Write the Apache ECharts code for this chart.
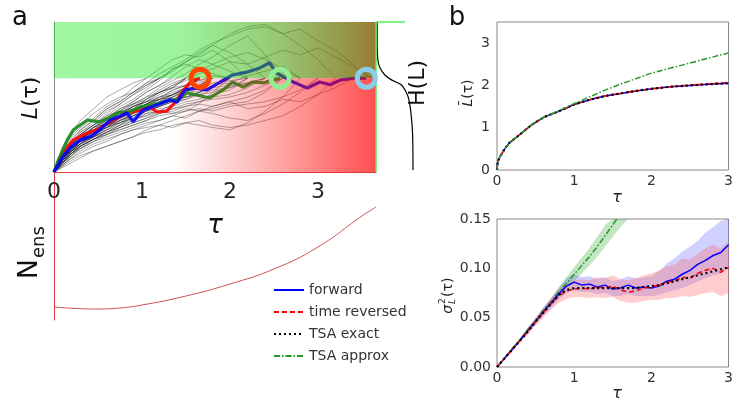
<!DOCTYPE html>
<html>
<head>
<meta charset="utf-8">
<script src="https://cdn.jsdelivr.net/npm/echarts@6/dist/echarts.min.js"></script>
<style>
html, body { margin: 0; padding: 0; background: #fff; }
#main { width: 736px; height: 401px; }
</style>
</head>
<body>
<div id="main"></div>
<script>
// a: 轨迹时间网格和集合轨迹 (L 值, 最后一点到达阈值 L=2)
var ensTau = [0, 0.1, 0.2, 0.3, 0.45, 0.6, 0.75, 0.9, 1.05, 1.2, 1.35, 1.5, 1.65, 1.8, 2.0, 2.2, 2.4, 2.6, 2.8, 3.0, 3.2, 3.4, 3.6];
var ensPaths = [
	[0, .45, .7, .9, 1.1, 1.35, 1.5, 1.7, 1.9, 2.0],
	[0, .35, .6, .8, 1.0, 1.15, 1.35, 1.5, 1.7, 1.85, 2.0],
	[0, .3, .5, .75, .9, 1.1, 1.25, 1.4, 1.5, 1.7, 1.8, 2.0],
	[0, .4, .6, .7, .95, 1.05, 1.3, 1.35, 1.55, 1.75, 1.9, 2.0],
	[0, .25, .45, .65, .8, 1.0, 1.15, 1.3, 1.45, 1.6, 1.7, 1.8, 2.0],
	[0, .35, .55, .7, .9, .95, 1.2, 1.35, 1.5, 1.55, 1.75, 1.85, 2.0],
	[0, .2, .4, .6, .75, .9, 1.05, 1.15, 1.3, 1.45, 1.55, 1.7, 1.85, 2.0],
	[0, .3, .5, .6, .85, 1.0, 1.05, 1.25, 1.35, 1.5, 1.65, 1.75, 1.9, 2.0],
	[0, .25, .5, .65, .75, .9, 1.0, 1.2, 1.25, 1.4, 1.5, 1.6, 1.7, 1.85, 2.0],
	[0, .4, .6, .8, 1.0, 1.2, 1.4, 1.55, 1.75, 1.95, 2.2, 2.3, 2.2, 2.1, 2.0],
	[0, .2, .35, .55, .7, .85, .95, 1.1, 1.25, 1.3, 1.45, 1.55, 1.65, 1.7, 1.8, 2.0],
	[0, .5, .75, .95, 1.15, 1.4, 1.55, 1.8, 2.0, 2.2, 2.4, 2.5, 2.45, 2.6, 2.35, 2.0],
	[0, .15, .35, .5, .65, .8, .9, 1.0, 1.1, 1.25, 1.3, 1.4, 1.5, 1.6, 1.65, 1.8, 2.0],
	[0, .35, .6, .85, 1.05, 1.3, 1.45, 1.65, 1.8, 2.0, 2.15, 2.35, 2.5, 2.7, 2.55, 2.3, 2.0],
	[0, .2, .4, .5, .65, .75, .85, .95, 1.05, 1.1, 1.2, 1.15, 1.3, 1.35, 1.45, 1.5, 1.7, 2.0],
	[0, .3, .55, .75, .95, 1.15, 1.35, 1.45, 1.6, 1.8, 1.95, 2.1, 2.3, 2.45, 2.7, 2.9, 2.5, 2.0],
	[0, .15, .3, .45, .6, .7, .8, .9, .95, 1.0, .95, 1.05, 1.0, .95, .9, 1.05, 1.3, 1.6, 2.0],
	[0, .25, .45, .6, .75, .85, 1.0, 1.15, 1.2, 1.3, 1.25, 1.35, 1.3, 1.25, 1.15, 1.1, 1.25, 1.45, 1.7, 2.0],
	[0, .45, .65, .9, 1.1, 1.35, 1.5, 1.7, 1.9, 2.1, 2.25, 2.4, 2.6, 2.75, 2.9, 3.05, 3.1, 2.95, 2.7, 2.4, 2.0],
	[0, .2, .4, .55, .7, .8, .95, 1.05, 1.15, 1.25, 1.35, 1.4, 1.45, 1.4, 1.5, 1.35, 1.4, 1.55, 1.5, 1.65, 1.8, 2.0],
	[0, .3, .5, .7, .95, 1.1, 1.25, 1.45, 1.6, 1.7, 1.85, 1.95, 2.1, 2.2, 2.35, 2.3, 2.45, 2.6, 2.5, 2.65, 2.45, 2.25, 2.0],
	[0, .35, .6, .8, 1.0, 1.25, 1.45, 1.65, 1.85, 2.0, 2.2, 2.35, 2.55, 2.7, 2.95, 3.1, 3.15, 2.95, 3.05, 2.8, 2.6, 2.3, 2.0],
	[0, .5, .8, 1.0, 1.25, 1.45, 1.6, 1.7, 1.85, 2.0],
	[0, .15, .3, .4, .55, .65, .8, .9, 1.0, 1.1, 1.2, 1.3, 1.45, 1.7, 2.0],
	[0, .3, .5, .7, .85, 1.0, 1.15, 1.3, 1.45, 1.55, 1.65, 1.75, 1.7, 1.85, 1.9, 2.05, 2.15, 2.25, 2.0],
	[0, .55, .85, 1.1, 1.35, 1.6, 1.75, 1.9, 2.0],
	[0, .12, .25, .35, .45, .55, .65, .75, .9, 1.0, 1.1, 1.2, 1.3, 1.4, 1.5, 1.6, 1.75, 2.0],
	[0, .4, .55, .85, 1.0, 1.2, 1.3, 1.45, 1.55, 1.7, 1.8, 1.85, 1.95, 2.0],
	[0, .25, .55, .7, .85, 1.05, 1.2, 1.3, 1.45, 1.6, 1.65, 1.8, 1.75, 1.9, 1.95, 2.0],
	[0, .3, .45, .7, .85, 1.0, 1.15, 1.3, 1.45, 1.55, 1.65, 1.8, 2.0],
	[0, .1, .2, .3, .45, .55, .65, .75, .85, .9, 1.0, 1.05, 1.1, 1.0, .95, 1.0, 1.1, 1.2, 1.4, 1.65, 2.0],
	[0, .3, .45, .6, .8, .95, 1.05, 1.2, 1.3, 1.4, 1.5, 1.6, 1.65, 1.75, 1.8, 1.9, 2.0],
	[0, .2, .45, .55, .75, .9, 1.1, 1.2, 1.35, 1.5, 1.6, 1.7, 1.85, 2.0],
	[0, .35, .55, .75, .95, 1.15, 1.3, 1.5, 1.7, 1.85, 2.05, 2.25, 2.4, 2.3, 2.15, 2.0],
	[0, .3, .5, .65, .85, 1.0, 1.1, 1.25, 1.35, 1.5, 1.6, 1.75, 2.0],
	[0, .25, .4, .6, .8, .95, 1.1, 1.2, 1.3, 1.4, 1.55, 1.65, 1.8, 2.0],
	[0, .3, .45, .6, .75, .95, 1.05, 1.15, 1.3, 1.4, 1.5, 1.55, 1.7, 1.8, 2.0],
	[0, .35, .55, .7, .9, 1.05, 1.2, 1.4, 1.5, 1.65, 1.8, 2.0],
	[0, .2, .4, .55, .7, .85, 1.0, 1.1, 1.2, 1.35, 1.4, 1.5, 1.55, 1.65, 1.75, 2.0],
	[0, .3, .5, .7, .8, 1.0, 1.1, 1.25, 1.35, 1.45, 1.55, 1.6, 1.7, 1.8, 1.85, 1.9, 2.0],
	[0, .35, .5, .7, .9, 1.05, 1.15, 1.3, 1.45, 1.55, 1.6, 1.75, 1.85, 2.0],
	[0, .25, .45, .65, .8, .95, 1.15, 1.25, 1.4, 1.55, 1.65, 1.8, 2.0],
	[0, .2, .35, .5, .7, .85, .95, 1.05, 1.15, 1.3, 1.35, 1.45, 1.5, 1.55, 1.6, 1.7, 1.85, 2.0],
	[0, .4, .6, .75, .95, 1.1, 1.25, 1.4, 1.5, 1.6, 1.75, 1.85, 1.95, 2.05, 2.0],
	[0, .25, .4, .55, .7, .8, .9, 1.0, 1.1, 1.2, 1.25, 1.3, 1.35, 1.3, 1.4, 1.45, 1.5, 1.6, 1.75, 2.0],
	[0, .3, .5, .7, .9, 1.05, 1.2, 1.4, 1.55, 1.7, 1.85, 2.0, 2.15, 2.3, 2.45, 2.55, 2.4, 2.2, 2.0]
];

// a: 三条高亮轨迹
var redTau = [0, 0.07, 0.14, 0.22, 0.35, 0.49, 0.64, 0.83, 0.98, 1.09, 1.17, 1.28, 1.38, 1.49, 1.57, 1.66];
var redL = [0, 0.26, 0.51, 0.68, 0.81, 0.9, 1.07, 1.26, 1.32, 1.39, 1.28, 1.3, 1.49, 1.79, 1.96, 2.0];
var blueTau = [0, 0.09, 0.18, 0.3, 0.43, 0.52, 0.64, 0.75, 0.83, 0.9, 1.01, 1.17, 1.32, 1.4, 1.49, 1.6, 1.74, 1.89, 2.03, 2.19, 2.34, 2.45, 2.53, 2.72, 2.88, 3.02, 3.14, 3.25, 3.4, 3.55];
var blueL = [0, 0.3, 0.51, 0.68, 0.77, 0.9, 1.11, 1.19, 1.26, 1.07, 1.32, 1.43, 1.54, 1.49, 1.75, 1.79, 1.75, 1.92, 2.07, 2.13, 2.22, 2.33, 2.11, 1.92, 1.79, 1.92, 1.86, 1.96, 2.0, 2.0];
var greenTau = [0, 0.05, 0.15, 0.22, 0.38, 0.52, 0.64, 0.75, 0.83, 0.98, 1.09, 1.24, 1.35, 1.43, 1.51, 1.63, 1.77, 1.92, 2.03, 2.15, 2.26, 2.38, 2.48, 2.57];
var greenL = [0, 0.26, 0.68, 0.9, 1.11, 1.07, 1.17, 1.28, 1.26, 1.39, 1.43, 1.49, 1.54, 1.56, 1.69, 1.64, 1.58, 1.75, 1.92, 1.81, 1.92, 1.9, 1.96, 2.0];
var hitTau = [1.66, 2.57, 3.55];
var hitL = [2.0, 2.0, 2.0];
var hitColors = ['#ff4500', '#90ee90', '#87ceeb'];
var threshold = 2.0;
var tauMax = 3.66, lMax = 3.2;

// a: H(L) 分布 和 N_ens
var hL = [3.2, 2.82, 2.39, 2.22, 2.07, 1.96, 1.86, 1.71, 1.54, 1.22, 0.79, 0.04];
var hH = [0.03, 0.03, 0.05, 0.11, 0.24, 0.43, 0.68, 0.81, 0.89, 0.95, 0.99, 1.0];
var nTau = [0, 0.25, 0.5, 0.75, 1, 1.5, 2, 2.5, 3, 3.5, 3.66];
var nEns = [13, 11.5, 11, 12, 15, 24, 36, 51, 73, 104, 113];

// b 上: 平均 L
var meanTau = [0, 0.01, 0.04, 0.1, 0.16, 0.29, 0.45, 0.62, 0.79, 1.0, 1.2, 1.4, 1.6, 1.8, 2.0, 2.25, 2.5, 2.75, 3.0];
var meanFwd = [0, 0.2, 0.32, 0.5, 0.64, 0.83, 1.07, 1.26, 1.38, 1.55, 1.66, 1.75, 1.81, 1.87, 1.92, 1.97, 2.0, 2.03, 2.05];
var meanRev = [0, 0.2, 0.32, 0.5, 0.64, 0.83, 1.07, 1.26, 1.38, 1.55, 1.66, 1.75, 1.81, 1.87, 1.92, 1.97, 2.01, 2.04, 2.07];
var meanExact = [0, 0.2, 0.32, 0.5, 0.64, 0.83, 1.07, 1.26, 1.38, 1.55, 1.66, 1.75, 1.81, 1.87, 1.92, 1.97, 2.0, 2.03, 2.05];
var meanApprox = [0, 0.2, 0.32, 0.5, 0.64, 0.83, 1.07, 1.26, 1.39, 1.57, 1.73, 1.89, 2.03, 2.16, 2.29, 2.41, 2.53, 2.65, 2.77];

// b 下: 方差及其带宽
var sigTau = [0, 0.1, 0.2, 0.3, 0.4, 0.5, 0.6, 0.7, 0.8, 0.9, 1.0, 1.1, 1.2, 1.3, 1.4, 1.5, 1.6, 1.7, 1.8, 1.9, 2.0, 2.1, 2.2, 2.3, 2.4, 2.5, 2.6, 2.7, 2.8, 2.9, 3.0];
var sigFwd = [0, 0.009, 0.018, 0.027, 0.037, 0.046, 0.056, 0.065, 0.074, 0.082, 0.086, 0.083, 0.084, 0.081, 0.083, 0.079, 0.08, 0.083, 0.08, 0.081, 0.08, 0.082, 0.087, 0.089, 0.094, 0.098, 0.104, 0.108, 0.113, 0.116, 0.124];
var fwdLo = [0, 0.008, 0.017, 0.025, 0.034, 0.043, 0.052, 0.06, 0.068, 0.075, 0.078, 0.076, 0.076, 0.074, 0.075, 0.072, 0.072, 0.074, 0.072, 0.072, 0.072, 0.073, 0.076, 0.078, 0.08, 0.083, 0.087, 0.09, 0.093, 0.095, 0.1];
var fwdHi = [0, 0.01, 0.019, 0.029, 0.04, 0.05, 0.06, 0.07, 0.08, 0.09, 0.094, 0.091, 0.092, 0.089, 0.091, 0.087, 0.089, 0.092, 0.09, 0.091, 0.092, 0.097, 0.105, 0.11, 0.117, 0.122, 0.128, 0.136, 0.142, 0.148, 0.155];
var sigRev = [0, 0.009, 0.018, 0.027, 0.036, 0.046, 0.055, 0.064, 0.072, 0.077, 0.079, 0.08, 0.079, 0.081, 0.08, 0.082, 0.078, 0.076, 0.077, 0.08, 0.081, 0.083, 0.086, 0.087, 0.091, 0.09, 0.095, 0.098, 0.1, 0.096, 0.101];
var revLo = [0, 0.008, 0.016, 0.025, 0.033, 0.042, 0.05, 0.058, 0.065, 0.069, 0.071, 0.071, 0.07, 0.071, 0.07, 0.071, 0.067, 0.065, 0.065, 0.067, 0.068, 0.068, 0.07, 0.07, 0.072, 0.071, 0.073, 0.075, 0.076, 0.072, 0.075];
var revHi = [0, 0.01, 0.02, 0.029, 0.039, 0.05, 0.06, 0.07, 0.079, 0.085, 0.088, 0.089, 0.088, 0.091, 0.09, 0.093, 0.089, 0.088, 0.09, 0.093, 0.095, 0.098, 0.102, 0.104, 0.11, 0.109, 0.115, 0.12, 0.124, 0.12, 0.127];
var sigExact = [0, 0.009, 0.018, 0.027, 0.036, 0.046, 0.055, 0.064, 0.073, 0.078, 0.08, 0.08, 0.08, 0.08, 0.08, 0.08, 0.08, 0.08, 0.08, 0.081, 0.082, 0.083, 0.085, 0.087, 0.089, 0.091, 0.093, 0.095, 0.097, 0.099, 0.101];
var sigApprox = [0, 0.0095, 0.019, 0.028, 0.038, 0.047, 0.057, 0.066, 0.076, 0.085, 0.094, 0.103, 0.112, 0.122, 0.133, 0.144, 0.155, 0.166];
var apxLo = [0, 0.009, 0.018, 0.027, 0.036, 0.045, 0.054, 0.063, 0.071, 0.079, 0.087, 0.095, 0.103, 0.112, 0.122, 0.132, 0.142, 0.152];
var apxHi = [0, 0.01, 0.02, 0.029, 0.04, 0.049, 0.06, 0.069, 0.081, 0.091, 0.101, 0.111, 0.121, 0.132, 0.144, 0.156, 0.168, 0.18];

var FONT = 'DejaVu Sans';
var C_FWD = '#0000ff', C_REV = '#ff0000', C_EXACT = '#000000', C_APX = '#229922';

function pairs(xs, ys) {
	var out = [];
	for (var i = 0; i < ys.length; i++) {
		out.push([xs[i], ys[i]]);
	}
	return out;
}

// 半透明覆盖层 (画在轨迹上面)
function overlaySeries(y0, y1, stops) {
	return {
		type: 'custom', xAxisIndex: 0, yAxisIndex: 0, data: [[0, 0]], silent: true, z: 4,
		renderItem: function(params, api) {
			var p0 = api.coord([0, y0]);
			var p1 = api.coord([tauMax, y1]);
			return {
				type: 'rect',
				shape: {x: p0[0], y: p1[1], width: p1[0] - p0[0], height: p0[1] - p1[1]},
				style: {fill: new echarts.graphic.LinearGradient(0, 0, 1, 0, stops)}
			};
		}
	};
}

// 置信带
function bandSeries(xs, lo, hi, color) {
	return {
		type: 'custom', xAxisIndex: 4, yAxisIndex: 4, data: [[0, 0]], silent: true, z: 1, clip: true,
		renderItem: function(params, api) {
			var pts = [], i;
			for (i = 0; i < hi.length; i++) pts.push(api.coord([xs[i], hi[i]]));
			for (i = lo.length - 1; i >= 0; i--) pts.push(api.coord([xs[i], lo[i]]));
			var cs = params.coordSys;
			pts = echarts.graphic.clipPointsByRect(pts, {x: cs.x, y: cs.y, width: cs.width, height: cs.height});
			return {type: 'polygon', shape: {points: pts}, style: {fill: color}};
		}
	};
}

var chart = echarts.init(document.getElementById('main'), null, {renderer: 'canvas'});
var series = [];

// 灰色集合轨迹
ensPaths.forEach(function(p) {
	series.push({
		type: 'line', xAxisIndex: 0, yAxisIndex: 0, data: pairs(ensTau, p),
		symbol: 'none', silent: true, z: 2,
		lineStyle: {color: '#000', width: 0.8, opacity: 0.42}
	});
});

// 高亮轨迹
[[redTau, redL, '#ff0000'], [greenTau, greenL, '#1a8a1a'], [blueTau, blueL, '#0000ff']].forEach(function(t) {
	series.push({
		type: 'line', xAxisIndex: 0, yAxisIndex: 0, data: pairs(t[0], t[1]),
		symbol: 'none', silent: true, z: 3,
		lineStyle: {color: t[2], width: 3.2, opacity: 0.9}
	});
});

// 阈值上下的覆盖色
series.push(overlaySeries(threshold, lMax, [
	{offset: 0, color: 'rgba(0,232,0,0.37)'}, {offset: 0.38, color: 'rgba(0,226,0,0.38)'},
	{offset: 0.7, color: 'rgba(70,150,0,0.55)'}, {offset: 1, color: 'rgba(130,89,0,0.8)'}
]));
series.push(overlaySeries(0, threshold, [
	{offset: 0, color: 'rgba(255,0,0,0)'}, {offset: 0.37, color: 'rgba(255,0,0,0)'},
	{offset: 0.62, color: 'rgba(255,0,0,0.26)'}, {offset: 1, color: 'rgba(255,0,0,0.69)'}
]));

// 到达阈值的圆圈 (单独一层, 在覆盖色之上)
series.push({
	type: 'scatter', xAxisIndex: 0, yAxisIndex: 0, zlevel: 1, z: 6, silent: true,
	symbolSize: 18,
	data: hitTau.map(function(t, i) {
		return {value: [t, hitL[i]], itemStyle: {color: 'rgba(0,0,0,0)', borderColor: hitColors[i], borderWidth: 5, opacity: 1}};
	})
});

// H(L)
series.push({
	type: 'line', xAxisIndex: 1, yAxisIndex: 1, data: pairs(hH, hL), smooth: 0.3,
	symbol: 'none', silent: true, lineStyle: {color: '#000', width: 1.2}
});

// N_ens
series.push({
	type: 'line', xAxisIndex: 2, yAxisIndex: 2, data: pairs(nTau, nEns), smooth: true,
	symbol: 'none', silent: true, lineStyle: {color: '#d05050', width: 1}
});

// b 上
series.push(
	{name: 'forward', type: 'line', xAxisIndex: 3, yAxisIndex: 3, data: pairs(meanTau, meanFwd), symbol: 'none',
		lineStyle: {color: C_FWD, width: 1.5}, itemStyle: {color: C_FWD}},
	{name: 'time reversed', type: 'line', xAxisIndex: 3, yAxisIndex: 3, data: pairs(meanTau, meanRev), symbol: 'none',
		lineStyle: {color: C_REV, width: 1.5, type: [5, 3]}, itemStyle: {color: C_REV}},
	{name: 'TSA exact', type: 'line', xAxisIndex: 3, yAxisIndex: 3, data: pairs(meanTau, meanExact), symbol: 'none',
		lineStyle: {color: C_EXACT, width: 2.2, type: [2, 3]}, itemStyle: {color: C_EXACT}},
	{name: 'TSA approx', type: 'line', xAxisIndex: 3, yAxisIndex: 3, data: pairs(meanTau, meanApprox), symbol: 'none',
		lineStyle: {color: C_APX, width: 1.5, type: [6, 2, 1.5, 2]}, itemStyle: {color: C_APX}}
);

// b 下
series.push(
	bandSeries(sigTau, apxLo, apxHi, 'rgba(60,170,60,0.3)'),
	bandSeries(sigTau, fwdLo, fwdHi, 'rgba(90,90,255,0.28)'),
	bandSeries(sigTau, revLo, revHi, 'rgba(255,90,90,0.3)'),
	{name: 'TSA approx', type: 'line', xAxisIndex: 4, yAxisIndex: 4, data: pairs(sigTau, sigApprox), symbol: 'none', z: 3,
		lineStyle: {color: C_APX, width: 1.5, type: [6, 2, 1.5, 2]}},
	{name: 'forward', type: 'line', xAxisIndex: 4, yAxisIndex: 4, data: pairs(sigTau, sigFwd), symbol: 'none', z: 3,
		lineStyle: {color: C_FWD, width: 1.5}},
	{name: 'time reversed', type: 'line', xAxisIndex: 4, yAxisIndex: 4, data: pairs(sigTau, sigRev), symbol: 'none', z: 3,
		lineStyle: {color: C_REV, width: 1.5, type: [5, 3]}},
	{name: 'TSA exact', type: 'line', xAxisIndex: 4, yAxisIndex: 4, data: pairs(sigTau, sigExact), symbol: 'none', z: 3,
		lineStyle: {color: C_EXACT, width: 2.2, type: [2, 3]}}
);

var tickB = {fontFamily: FONT, fontSize: 14, color: '#333'};
var hidden = {show: false};

chart.setOption({
	animation: false,
	textStyle: {fontFamily: FONT},
	grid: [
		{left: 54, top: 22, width: 322, height: 150},
		{left: 376, top: 22, width: 37, height: 150},
		{left: 54, top: 172, width: 322, height: 148},
		{left: 497, top: 22, width: 240, height: 148, show: true, borderColor: '#888', borderWidth: 1},
		{left: 497, top: 219, width: 240, height: 148, show: true, borderColor: '#888', borderWidth: 1}
	],
	xAxis: [
		{gridIndex: 0, type: 'value', min: 0, max: tauMax, interval: 1,
			axisLine: {lineStyle: {color: '#e03838', width: 1}}, axisTick: hidden, splitLine: hidden,
			axisLabel: {fontFamily: FONT, fontSize: 22, color: '#262626', margin: 9, showMaxLabel: false}},
		{gridIndex: 1, type: 'value', min: 0, max: 1, show: false},
		{gridIndex: 2, type: 'value', min: 0, max: tauMax, show: false},
		{gridIndex: 3, type: 'value', min: 0, max: 3, interval: 1,
			axisLine: hidden, axisTick: hidden, splitLine: hidden, axisLabel: Object.assign({margin: 4}, tickB)},
		{gridIndex: 4, type: 'value', min: 0, max: 3, interval: 1,
			axisLine: hidden, axisTick: hidden, splitLine: hidden, axisLabel: Object.assign({margin: 4}, tickB)}
	],
	yAxis: [
		{gridIndex: 0, type: 'value', min: 0, max: lMax, axisLabel: hidden, axisTick: hidden, splitLine: hidden,
			axisLine: {show: true, lineStyle: {color: '#888'}}},
		{gridIndex: 1, type: 'value', min: 0, max: lMax, show: false},
		{gridIndex: 2, type: 'value', min: 0, max: 148, axisLabel: hidden, axisTick: hidden, splitLine: hidden,
			axisLine: {show: true, lineStyle: {color: '#e03838'}}},
		{gridIndex: 3, type: 'value', min: 0, max: 3.5, interval: 1,
			axisLine: hidden, axisTick: hidden, splitLine: hidden,
			axisLabel: Object.assign({margin: 7, showMaxLabel: false}, tickB)},
		{gridIndex: 4, type: 'value', min: 0, max: 0.15, interval: 0.05,
			axisLine: hidden, axisTick: hidden, splitLine: hidden,
			axisLabel: Object.assign({margin: 6, formatter: function(v) { return v.toFixed(2); }}, tickB)}
	],
	legend: {
		left: 268, top: 278, orient: 'vertical', itemWidth: 30, itemHeight: 14, itemGap: 8,
		data: ['forward', 'time reversed', 'TSA exact', 'TSA approx'],
		itemStyle: {opacity: 0},
		textStyle: {fontFamily: FONT, fontSize: 14, color: '#333'},
		selectedMode: false
	},
	graphic: [
		{type: 'line', shape: {x1: 376, y1: 22, x2: 376, y2: 172}, style: {stroke: '#55ee55', lineWidth: 1.5}, z: 10},
		{type: 'line', shape: {x1: 376, y1: 22, x2: 405, y2: 22}, style: {stroke: '#55ee55', lineWidth: 1.5}, z: 10},
		{type: 'text', x: 20, y: 18, style: {text: 'a', font: '26px "DejaVu Sans"', fill: '#111', align: 'center', verticalAlign: 'middle'}},
		{type: 'text', x: 457, y: 18, style: {text: 'b', font: '26px "DejaVu Sans"', fill: '#111', align: 'center', verticalAlign: 'middle'}},
		{type: 'text', x: 31, y: 98, rotation: Math.PI / 2, style: {
			text: '{i|L}(τ)', font: '22px "DejaVu Sans"', fill: '#111', align: 'center', verticalAlign: 'middle',
			rich: {i: {fontStyle: 'italic', fontSize: 22, fontFamily: FONT}}}},
		{type: 'text', x: 418, y: 83, rotation: Math.PI / 2, style: {
			text: 'H(L)', font: '22px "DejaVu Sans"', fill: '#111', align: 'center', verticalAlign: 'middle'}},
		{type: 'group', x: 30, y: 253, rotation: Math.PI / 2, children: [
			{type: 'text', x: -6, y: 0, style: {text: 'N', font: '27px "DejaVu Sans"', fill: '#111', align: 'right', verticalAlign: 'middle'}},
			{type: 'text', x: -5, y: 9, style: {text: 'ens', font: '18px "DejaVu Sans"', fill: '#111', align: 'left', verticalAlign: 'middle'}}
		]},
		{type: 'text', x: 215, y: 226, style: {text: 'τ', font: 'italic 26px "DejaVu Sans"', fill: '#111', align: 'center', verticalAlign: 'middle'}},
		{type: 'text', x: 617, y: 198, style: {text: 'τ', font: 'italic 16px "DejaVu Sans"', fill: '#222', align: 'center', verticalAlign: 'middle'}},
		{type: 'text', x: 617, y: 394, style: {text: 'τ', font: 'italic 16px "DejaVu Sans"', fill: '#222', align: 'center', verticalAlign: 'middle'}},
		{type: 'text', x: 468, y: 93, rotation: Math.PI / 2, style: {
			text: '{i|L̄}(τ)', font: '14px "DejaVu Sans"', fill: '#222', align: 'center', verticalAlign: 'middle',
			rich: {i: {fontStyle: 'italic', fontSize: 14, fontFamily: FONT}}}},
		{type: 'group', x: 448, y: 297, rotation: Math.PI / 2, children: [
			{type: 'text', x: -8, y: 0, style: {text: 'σ', font: 'italic 14px "DejaVu Sans"', fill: '#222', align: 'right', verticalAlign: 'middle'}},
			{type: 'text', x: -7, y: -5, style: {text: '2', font: '9px "DejaVu Sans"', fill: '#222', align: 'left', verticalAlign: 'middle'}},
			{type: 'text', x: -7, y: 5, style: {text: 'L', font: 'italic 9px "DejaVu Sans"', fill: '#222', align: 'left', verticalAlign: 'middle'}},
			{type: 'text', x: 0, y: 0, style: {text: '(τ)', font: '14px "DejaVu Sans"', fill: '#222', align: 'left', verticalAlign: 'middle'}}
		]}
	],
	series: series
});
</script>
</body>
</html>
